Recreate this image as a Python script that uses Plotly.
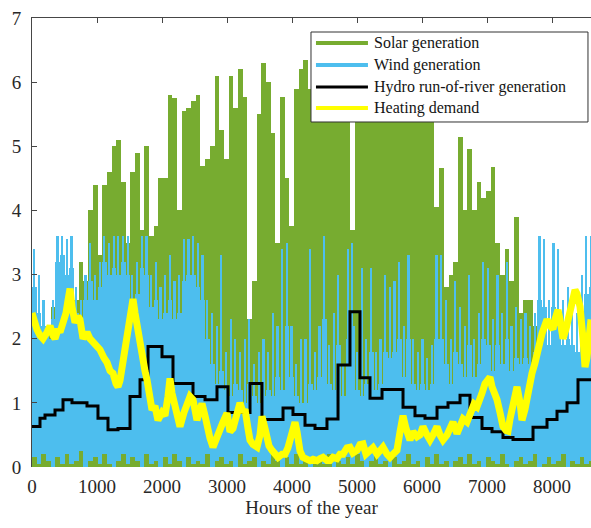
import plotly.graph_objects as go

# ---------------------------------------------------------------------------
# Hourly profiles summarised in 72-hour blocks (block i covers hours 72*i .. 72*i+72)
# ---------------------------------------------------------------------------
BLOCK_HOURS = 72

# Daily solar peak reached within each block
solar_peak = [
    1.5, 2.0, 1.8, 2.2, 2.5, 2.0, 2.8, 2.4, 3.0, 2.6, 3.2, 2.9,
    4.0, 4.4, 3.3, 4.4, 4.6, 5.0, 5.1, 4.45, 3.5, 4.6, 4.9, 3.7,
    5.0, 3.6, 3.75, 4.5, 4.5, 5.8, 5.75, 4.0, 5.55, 5.6, 5.7, 5.8,
    4.7, 4.8, 5.0, 6.1, 5.25, 4.8, 6.1, 5.6, 6.2, 5.77, 2.3, 2.9,
    5.5, 6.3, 6.0, 5.2, 3.5, 5.77, 4.5, 3.75, 5.9, 6.2, 6.35, 5.9,
    6.0, 5.8, 6.2, 5.8, 6.1, 5.9, 6.0, 5.9, 3.7, 6.0, 6.1, 5.9,
    6.0, 6.2, 5.9, 6.1, 6.0, 5.8, 6.0, 6.1, 5.9, 6.0, 5.8, 6.0, 5.9, 5.7,
    4.06, 4.66, 2.8, 3.0, 3.2, 5.15, 4.0, 4.95, 4.0, 4.45, 4.2, 4.3, 4.68,
    3.5, 3.0, 3.4, 2.9, 3.9, 2.4, 2.6, 2.6, 2.2, 2.0, 2.2, 1.8, 2.0, 1.6,
    1.5, 1.8, 1.4, 1.2, 1.5, 1.0, 1.1,
]

# Wind output in each block: lowest value, level it keeps most of the time,
# and the highest gust peak
wind_min = [
    0.15, 0.05, 0.2, 0.1, 0.0, 0.15, 0.05, 0.2, 0.05, 0.1, 0.25, 0.0,
    0.1, 0.15, 0.05, 0.2, 0.05, 0.0, 0.1, 0.2, 0.05, 0.15, 0.1, 0.0,
    0.2, 0.05, 0.1, 0.0, 0.15, 0.05, 0.2, 0.1, 0.0, 0.15, 0.05, 0.1,
    0.05, 0.2, 0.0, 0.1, 0.15, 0.05, 0.1, 0.0, 0.2, 0.05, 0.1, 0.15,
    0.0, 0.1, 0.05, 0.2, 0.1, 0.0, 0.15, 0.05, 0.2, 0.05, 0.1, 0.0,
    0.15, 0.1, 0.05, 0.2, 0.0, 0.1, 0.05, 0.15, 0.05, 0.2, 0.1, 0.0,
    0.1, 0.2, 0.05, 0.1, 0.0, 0.15, 0.05, 0.1, 0.2, 0.05, 0.1, 0.0,
    0.15, 0.05, 0.2, 0.05, 0.1, 0.0, 0.1, 0.15, 0.05, 0.2, 0.05, 0.1,
    0.0, 0.15, 0.1, 0.05, 0.2, 0.05, 0.0, 0.1, 0.15, 0.05, 0.1, 0.2,
    0.0, 0.05, 0.15, 0.05, 0.1, 0.2, 0.0, 0.1, 0.05, 0.15, 0.05, 0.1,
]
wind_typ = [
    2.8, 2.4, 2.2, 2.0, 2.3, 3.2, 3.3, 3.0, 3.1, 2.4, 2.2, 2.6,
    2.9, 2.6, 2.8, 3.2, 3.0, 3.1, 3.0, 3.2, 3.0, 2.6, 2.7, 3.1,
    3.0, 2.5, 2.6, 2.3, 2.4, 2.6, 2.3, 2.4, 2.9, 3.0, 3.0, 2.8,
    2.6, 2.0, 1.6, 1.3, 1.5, 1.2, 1.1, 1.3, 1.2, 1.0, 1.3, 1.1,
    1.0, 1.1, 1.2, 1.1, 1.4, 1.2, 2.2, 1.4, 1.1, 1.0, 1.0, 1.3,
    1.2, 1.4, 2.3, 1.3, 1.2, 1.9, 1.1, 2.0, 2.2, 1.2, 1.1, 1.3,
    1.8, 1.2, 1.3, 1.8, 1.7, 1.8, 2.0, 1.4, 2.0, 1.3, 1.2, 1.3, 1.2, 1.3,
    2.0, 2.0, 1.6, 1.3, 1.8, 1.6, 1.4, 1.9, 1.4, 1.6, 2.0, 1.9, 1.5,
    1.9, 1.6, 2.0, 1.5, 1.7, 1.6, 1.7, 1.6, 1.8, 2.6, 2.5, 1.9, 2.5, 2.4,
    1.9, 2.0, 1.9, 1.8, 2.2, 2.7, 2.8,
]
wind_peak = [
    3.4, 3.0, 2.6, 2.2, 2.6, 3.6, 3.6, 3.55, 3.6, 2.8, 2.6, 3.0,
    3.5, 3.0, 3.2, 3.6, 3.5, 3.6, 3.6, 3.6, 3.6, 3.0, 3.2, 3.6,
    3.6, 3.0, 3.2, 2.8, 3.0, 3.3, 2.9, 3.0, 3.55, 3.55, 3.6, 3.5,
    3.3, 2.6, 2.4, 2.2, 3.3, 1.8, 2.3, 2.0, 1.8, 2.0, 2.3, 1.6,
    1.8, 2.0, 1.8, 2.4, 2.2, 3.4, 3.5, 2.2, 1.6, 2.0, 2.0, 3.4,
    1.8, 2.2, 3.6, 1.9, 2.4, 3.0, 1.6, 3.4, 3.5, 1.8, 3.1, 2.0,
    3.1, 1.8, 2.0, 3.0, 2.8, 2.9, 3.2, 2.2, 3.3, 2.0, 1.8, 2.0, 1.7, 1.9,
    3.3, 3.3, 2.6, 2.0, 2.9, 2.5, 2.2, 3.0, 2.0, 2.4, 3.2, 3.1, 2.3,
    3.0, 2.4, 3.2, 2.2, 2.5, 2.3, 2.4, 2.2, 2.4, 3.6, 3.55, 2.6, 3.5, 3.4,
    2.6, 2.8, 2.6, 2.4, 3.0, 3.6, 3.6,
]

# Run-of-river hydro: piecewise-constant levels starting at these hours
hydro_start_hour = [
    0, 123, 200, 354, 477, 615, 846, 1015, 1169, 1323,
    1508, 1662, 1785, 2000, 2169, 2477, 2662, 2846, 3015, 3354,
    3538, 3862, 4015, 4200, 4354, 4538, 4708, 4892, 5046, 5200,
    5385, 5708, 5892, 6046, 6231, 6400, 6585, 6738, 6923, 7077,
    7246, 7400, 7708, 7923, 8077, 8231, 8400, 8760,
]
hydro_level = [
    0.63, 0.76, 0.81, 0.89, 1.05, 1.0, 0.95, 0.76, 0.58, 0.6,
    1.1, 1.36, 1.88, 1.72, 1.3, 1.1, 1.05, 1.25, 0.85, 1.3,
    0.74, 0.92, 0.82, 0.65, 0.6, 0.75, 1.59, 2.42, 1.39, 1.07,
    1.21, 0.93, 0.8, 0.76, 0.93, 1.0, 1.12, 0.77, 0.6, 0.55,
    0.46, 0.43, 0.62, 0.74, 0.87, 1.0, 1.36, 1.36,
]

# Heating demand
heat_hour = [
    0, 46, 77, 123, 169, 231, 277, 323, 354, 400, 431, 477, 523, 554, 585,
    615, 662, 708, 738, 785, 846, 892, 938, 1000, 1046, 1108, 1154, 1200,
    1246, 1292, 1323, 1354, 1400, 1446, 1477, 1523, 1554, 1585, 1615, 1662,
    1692, 1738, 1769, 1815, 1846, 1892, 1938, 2000, 2046, 2092, 2123, 2154,
    2200, 2246, 2277, 2338, 2385, 2431, 2477, 2538, 2585, 2615, 2662, 2692,
    2738, 2785, 2846, 2892, 2938, 3000, 3046, 3092, 3138, 3200, 3246, 3277,
    3323, 3354, 3400, 3462, 3508, 3538, 3585, 3615, 3646, 3692, 3738, 3785,
    3846, 3892, 3938, 4000, 4046, 4077, 4123, 4169, 4231, 4277, 4323, 4385,
    4431, 4477, 4538, 4585, 4631, 4692, 4738, 4785, 4846, 4892, 4938, 5000,
    5046, 5092, 5138, 5200, 5246, 5308, 5354, 5400, 5462, 5508, 5554, 5615,
    5662, 5708, 5754, 5815, 5862, 5923, 5969, 6015, 6077, 6123, 6169, 6231,
    6277, 6323, 6385, 6431, 6477, 6538, 6585, 6631, 6692, 6738, 6800, 6846,
    6892, 6923, 6969, 7000, 7046, 7077, 7123, 7154, 7200, 7246, 7292, 7323,
    7354, 7385, 7431, 7462, 7508, 7538, 7585, 7615, 7662, 7692, 7738, 7769,
    7815, 7846, 7892, 7923, 7969, 8015, 8046, 8092, 8123, 8169, 8215, 8246,
    8292, 8323, 8354, 8385, 8431, 8477, 8508, 8538, 8569, 8600,
]
heat_demand = [
    2.4, 2.2, 2.14, 2.05, 2.0, 2.1, 2.2, 2.05, 2.0, 2.15, 2.1, 2.25, 2.4, 2.6, 2.78,
    2.5, 2.25, 2.35, 2.3, 2.0, 2.1, 2.0, 1.95, 1.9, 1.83, 1.7, 1.63, 1.5,
    1.46, 1.3, 1.25, 1.35, 1.66, 1.9, 2.1, 2.4, 2.62, 2.4, 2.2, 1.9,
    1.72, 1.5, 1.36, 1.1, 0.89, 0.95, 0.73, 0.85, 0.8, 1.1, 1.38, 1.15,
    0.9, 0.75, 0.63, 0.85, 1.0, 1.1, 1.05, 0.73, 0.89, 0.99, 0.8, 0.63,
    0.45, 0.31, 0.5, 0.6, 0.7, 0.84, 0.55, 0.6, 0.8, 1.0, 0.85, 0.9,
    0.6, 0.42, 0.35, 0.31, 0.5, 0.79, 0.6, 0.45, 0.33, 0.26, 0.2, 0.15,
    0.2, 0.2, 0.3, 0.5, 0.7, 0.55, 0.25, 0.15, 0.13, 0.1, 0.12, 0.1,
    0.13, 0.15, 0.1, 0.1, 0.15, 0.13, 0.2, 0.2, 0.3, 0.31, 0.22, 0.26,
    0.35, 0.36, 0.2, 0.26, 0.3, 0.2, 0.25, 0.31, 0.2, 0.15, 0.2, 0.26,
    0.55, 0.8, 0.6, 0.42, 0.55, 0.47, 0.5, 0.63, 0.5, 0.42, 0.5, 0.63,
    0.5, 0.42, 0.5, 0.63, 0.7, 0.52, 0.63, 0.75, 0.7, 0.83, 0.98, 0.94,
    1.13, 1.15, 1.3, 1.36, 1.4, 1.25, 1.15, 1.05, 0.85, 0.63, 0.57, 0.56,
    0.75, 0.89, 1.1, 1.25, 1.0, 0.73, 0.9, 1.1, 1.3, 1.46, 1.62, 1.82,
    1.95, 2.08, 2.2, 2.3, 2.2, 2.15, 2.3, 2.45, 2.3, 2.0, 2.15, 2.3,
    2.5, 2.65, 2.76, 2.7, 2.5, 2.0, 1.56, 1.7, 2.0, 2.3,
]

series_names = [
    "Solar generation",
    "Wind generation",
    "Hydro run-of-river generation",
    "Heating demand",
]
x_ticks = [0, 1000, 2000, 3000, 4000, 5000, 6000, 7000, 8000]
y_ticks = [0, 1, 2, 3, 4, 5, 6, 7]

GREEN = "rgb(119,172,48)"
BLUE = "rgb(77,190,238)"
YELLOW = "rgb(255,255,0)"
BLACK = "rgb(0,0,0)"
AXIS = "rgb(70,70,70)"
FONT = "Liberation Serif"

block_centre = [BLOCK_HOURS * i + BLOCK_HOURS / 2 for i in range(len(solar_peak))]

fig = go.Figure()

fig.add_trace(go.Bar(
    x=block_centre, y=solar_peak, width=BLOCK_HOURS,
    marker=dict(color=GREEN, line=dict(width=0)),
    showlegend=False, hoverinfo="skip",
))
# steady part of the wind output
fig.add_trace(go.Bar(
    x=block_centre, base=wind_min,
    y=[hi - lo for hi, lo in zip(wind_typ, wind_min)], width=BLOCK_HOURS,
    marker=dict(color=BLUE, line=dict(width=0)),
    showlegend=False, hoverinfo="skip",
))
# short gust peaks
fig.add_trace(go.Bar(
    x=block_centre, base=wind_min,
    y=[hi - lo for hi, lo in zip(wind_peak, wind_min)], width=26,
    marker=dict(color=BLUE, line=dict(width=0)),
    showlegend=False, hoverinfo="skip",
))
fig.add_trace(go.Scatter(
    x=hydro_start_hour, y=hydro_level, mode="lines", line_shape="hv",
    line=dict(color=BLACK, width=3), showlegend=False, hoverinfo="skip",
))
fig.add_trace(go.Scatter(
    x=heat_hour, y=heat_demand, mode="lines",
    line=dict(color=YELLOW, width=7), showlegend=False, hoverinfo="skip",
))

# invisible companion trace that carries the top axis
fig.add_trace(go.Scatter(x=[None], y=[None], xaxis="x2", showlegend=False))

# Legend box drawn in paper coordinates
box_x0, box_x1, box_y0, box_y1 = 0.4991, 0.9946, 0.7684, 0.9688
row_y = [0.9443, 0.8953, 0.8463, 0.7996]
row_colors = [GREEN, BLUE, BLACK, YELLOW]
row_widths = [4, 4, 3, 4]

shapes = [dict(
    type="rect", xref="paper", yref="paper",
    x0=box_x0, x1=box_x1, y0=box_y0, y1=box_y1,
    line=dict(color="rgb(50,50,50)", width=1), fillcolor="white", layer="above",
)]
annotations = []
for name, yy, col, w in zip(series_names, row_y, row_colors, row_widths):
    shapes.append(dict(
        type="line", xref="paper", yref="paper",
        x0=0.508, x1=0.601, y0=yy, y1=yy,
        line=dict(color=col, width=w), layer="above",
    ))
    annotations.append(dict(
        text=name, xref="paper", yref="paper", x=0.6082, y=yy,
        xanchor="left", yanchor="middle", showarrow=False,
        font=dict(family=FONT, size=16, color="rgb(20,20,20)"),
    ))

fig.update_layout(
    width=591, height=528,
    margin=dict(l=32, r=0, t=18, b=61),
    paper_bgcolor="white", plot_bgcolor="white",
    barmode="overlay", bargap=0, showlegend=False,
    font=dict(family=FONT, size=19, color="rgb(40,40,40)"),
    shapes=shapes, annotations=annotations,
    xaxis=dict(
        range=[0, 8600], tickvals=x_ticks, ticks="", showgrid=False,
        zeroline=False, showline=False,
        tickfont=dict(family=FONT, size=19), ticklabelstandoff=6,
        title=dict(text="Hours of the year", font=dict(family=FONT, size=19),
                   standoff=4),
    ),
    xaxis2=dict(
        range=[0, 8600], overlaying="x", side="top", tickvals=x_ticks,
        showticklabels=False, ticks="inside", ticklen=5, tickcolor=AXIS,
        showline=True, linecolor=AXIS, linewidth=1, showgrid=False,
        zeroline=False,
    ),
    yaxis=dict(
        range=[0, 7], tickvals=y_ticks, ticks="inside", ticklen=5,
        tickcolor=AXIS, showline=True, linecolor=AXIS, linewidth=1,
        showgrid=False, zeroline=False, tickfont=dict(family=FONT, size=19),
        ticklabelstandoff=6,
    ),
)

fig.write_html("out.html")
